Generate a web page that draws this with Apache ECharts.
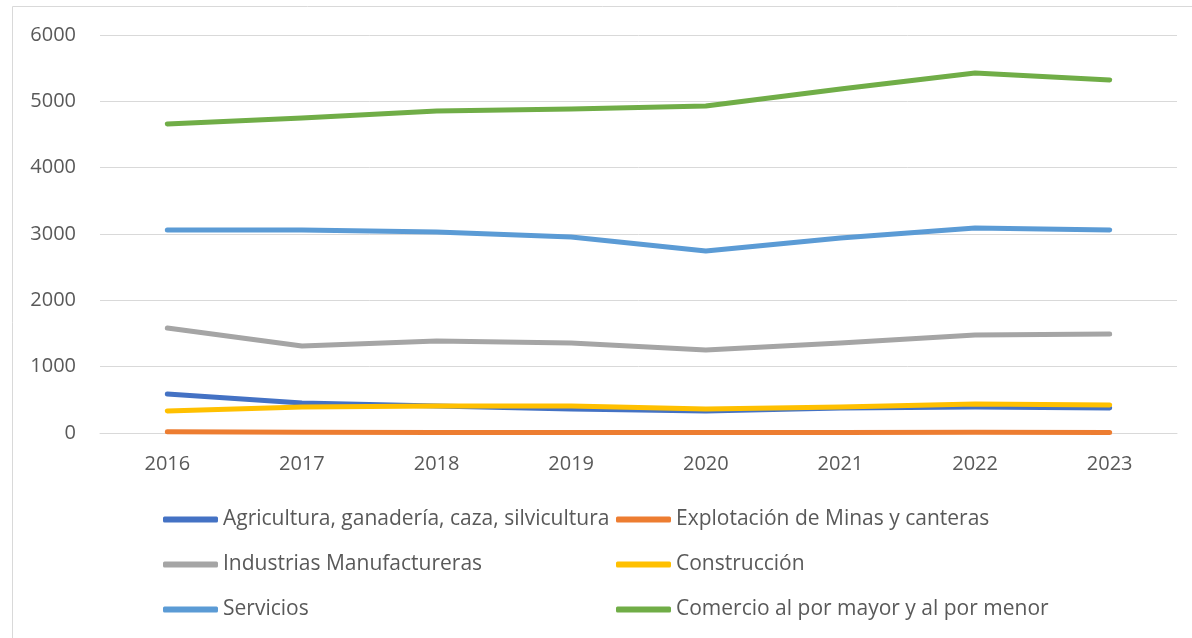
<!DOCTYPE html>
<html><head><meta charset="utf-8">
<script src="https://cdn.jsdelivr.net/npm/echarts@6/dist/echarts.min.js"></script>
<style>html,body{margin:0;padding:0;background:#fff}#c{width:1192px;height:638px}</style>
</head><body><div id="c"></div>
<script>
const years = ['2016','2017','2018','2019','2020','2021','2022','2023'];
const agricultura = [588, 452, 407, 362, 332, 377, 392, 377];
const explotacion = [20, 10, 8, 8, 7, 8, 10, 8];
const industrias = [1583, 1312, 1387, 1357, 1251, 1357, 1477, 1493];
const construccion = [332, 392, 407, 407, 362, 392, 437, 422];
const servicios = [3060, 3060, 3030, 2955, 2744, 2940, 3090, 3060];
const comercio = [4659, 4749, 4855, 4885, 4930, 5186, 5427, 5322];

const names = ['Agricultura, ganadería, caza, silvicultura','Explotación de Minas y canteras','Industrias Manufactureras','Construcción','Servicios','Comercio al por mayor y al por menor'];
const colors = ['#4472C4','#ED7D31','#A5A5A5','#FFC000','#5B9BD5','#70AD47'];
const datas = [agricultura, explotacion, industrias, construccion, servicios, comercio];
const font = '"Open Sans", sans-serif';

const chart = echarts.init(document.getElementById('c'), null, {renderer:'canvas'});
const legendCommon = {
  orient:'vertical', itemWidth:55, itemHeight:6, itemGap:24, icon:'roundRect', padding:0,
  textStyle:{fontFamily:font, fontSize:21, color:'#595959', lineHeight:20, padding:[0,0,0,0]}
};
chart.setOption({
  animation:false,
  color: colors,
  graphic:[{type:'rect', shape:{x:12.5,y:6.5,width:1200,height:700}, style:{fill:'none', stroke:'#D9D9D9', lineWidth:1}}],
  grid:{left:100, right:15, top:35, bottom:205},
  legend:[
    Object.assign({left:163, top:509, data:[names[0], names[2], names[4]]}, legendCommon),
    Object.assign({left:616, top:509, data:[names[1], names[3], names[5]]}, legendCommon)
  ],
  xAxis:{type:'category', data:years, boundaryGap:true,
    axisLine:{show:true, lineStyle:{color:'#D9D9D9', width:1}}, axisTick:{show:false},
    axisLabel:{fontFamily:font, fontSize:20, color:'#595959', margin:21}},
  yAxis:{type:'value', min:0, max:6000, interval:1000,
    axisLine:{show:false}, axisTick:{show:false},
    splitLine:{lineStyle:{color:'#D9D9D9', width:1}},
    axisLabel:{fontFamily:font, fontSize:20, color:'#595959', margin:24, formatter:v=>String(v)}},
  series: datas.map((d,i)=>({name:names[i], type:'line', data:d, symbol:'none',
    lineStyle:{width:5, color:colors[i], cap:'round', join:'round'}, itemStyle:{color:colors[i]}}))
});
</script></body></html>
